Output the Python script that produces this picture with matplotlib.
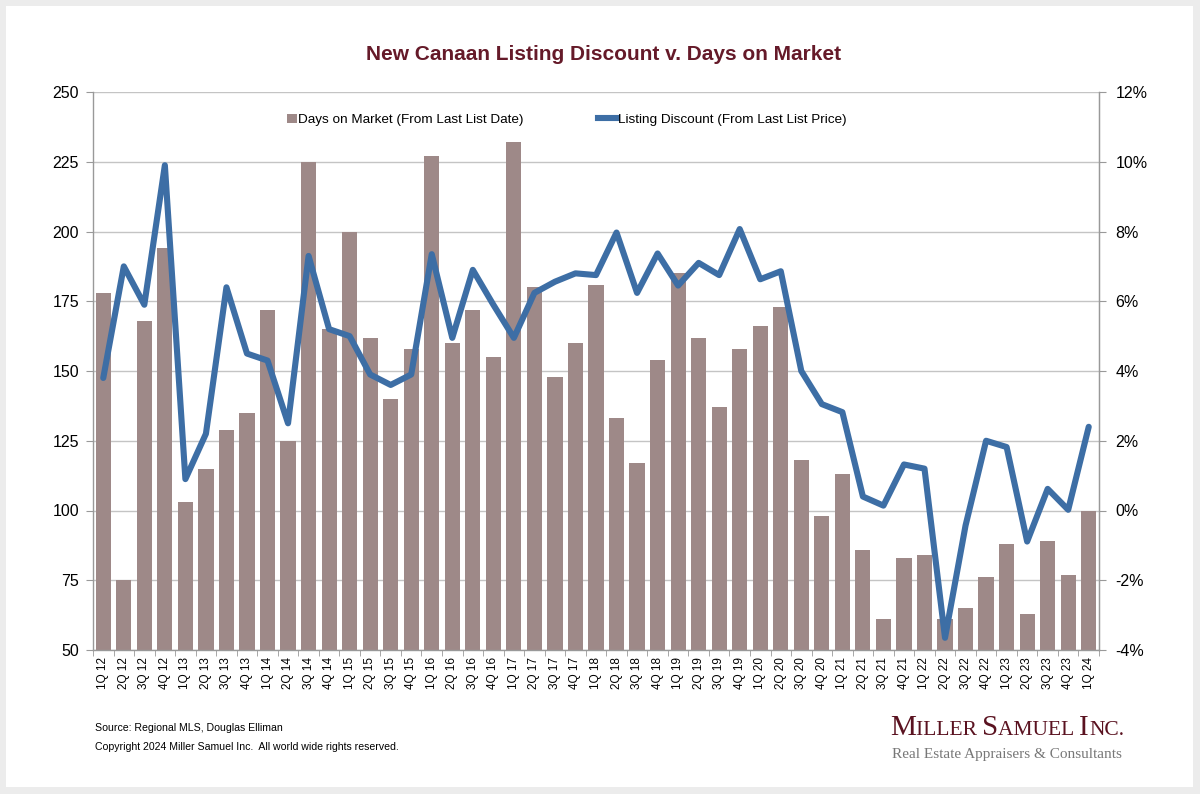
import matplotlib
matplotlib.use("Agg")
import matplotlib.pyplot as plt
from matplotlib.patches import Rectangle, Patch
from matplotlib.lines import Line2D
from matplotlib.ticker import FixedLocator, FuncFormatter

plt.rcParams['font.family'] = ['Liberation Sans', 'DejaVu Sans']

quarters = ["1Q 12", "2Q 12", "3Q 12", "4Q 12", "1Q 13", "2Q 13", "3Q 13", "4Q 13",
            "1Q 14", "2Q 14", "3Q 14", "4Q 14", "1Q 15", "2Q 15", "3Q 15", "4Q 15",
            "1Q 16", "2Q 16", "3Q 16", "4Q 16", "1Q 17", "2Q 17", "3Q 17", "4Q 17",
            "1Q 18", "2Q 18", "3Q 18", "4Q 18", "1Q 19", "2Q 19", "3Q 19", "4Q 19",
            "1Q 20", "2Q 20", "3Q 20", "4Q 20", "1Q 21", "2Q 21", "3Q 21", "4Q 21",
            "1Q 22", "2Q 22", "3Q 22", "4Q 22", "1Q 23", "2Q 23", "3Q 23", "4Q 23",
            "1Q 24"]

days_on_market = [178, 75, 168, 194, 103, 115, 129, 135,
                  172, 125, 225, 165, 200, 162, 140, 158,
                  227, 160, 172, 155, 232, 180, 148, 160,
                  181, 133, 117, 154, 185, 162, 137, 158,
                  166, 173, 118, 98, 113, 86, 61, 83,
                  84, 61, 65, 76, 88, 63, 89, 77,
                  100]

listing_discount = [3.8, 7.0, 5.9, 9.9, 0.9, 2.2, 6.4, 4.5,
                    4.3, 2.5, 7.3, 5.2, 5.0, 3.9, 3.6, 3.9,
                    7.35, 4.95, 6.9, 5.9, 4.95, 6.24, 6.56, 6.8,
                    6.75, 7.97, 6.24, 7.37, 6.45, 7.1, 6.75, 8.07,
                    6.63, 6.86, 4.0, 3.05, 2.82, 0.4, 0.14, 1.32,
                    1.2, -3.65, -0.43, 2.0, 1.82, -0.89, 0.62, 0.02,
                    2.4]

left_ticks = [50, 75, 100, 125, 150, 175, 200, 225, 250]
right_ticks = [-4, -2, 0, 2, 4, 6, 8, 10, 12]

bar_color = '#9e8988'
line_color = '#3d6ea5'
grid_color = '#c4c4c4'
title_color = '#651a29'

W, H = 1200, 794
fig = plt.figure(figsize=(W / 100, H / 100), dpi=100)
fig.patch.set_facecolor('#ececec')
fig.patches.append(Rectangle((6 / W, 1 - 787 / H), (1193 - 6) / W, (787 - 6) / H,
                             transform=fig.transFigure, facecolor='white',
                             edgecolor='none', zorder=-10))

ax = fig.add_axes([93 / W, 1 - 650 / H, (1099 - 93) / W, (650 - 92) / H])
ax.set_facecolor('none')
x = list(range(len(quarters)))
ax.bar(x, days_on_market, width=0.74, color=bar_color, zorder=2)
ax.set_xlim(-0.5, len(quarters) - 0.5)
ax.set_ylim(50, 250)
ax.yaxis.set_major_locator(FixedLocator(left_ticks))
ax.yaxis.grid(True, color=grid_color, linewidth=1.0, zorder=0)
ax.set_axisbelow(True)
ax.set_xticks(x)
ax.set_xticklabels(quarters, rotation=90, fontsize=8.5)
ax.xaxis.set_minor_locator(FixedLocator([i - 0.5 for i in range(len(quarters) + 1)]))
ax.tick_params(axis='x', which='major', length=0, pad=5)
ax.tick_params(axis='x', which='minor', length=4, color='#999999', direction='out')
ax.tick_params(axis='y', labelsize=11.5, length=5, color='#999999', pad=5)
ax.spines['top'].set_visible(False)
for s in ['left', 'bottom', 'right']:
    ax.spines[s].set_color('#999999')
    ax.spines[s].set_linewidth(1.0)

ax2 = ax.twinx()
ax2.plot(x, listing_discount, color=line_color, linewidth=4.4,
         solid_joinstyle='round', solid_capstyle='round', zorder=3)
ax2.set_ylim(-4, 12)
ax2.yaxis.set_major_locator(FixedLocator(right_ticks))
ax2.yaxis.set_major_formatter(FuncFormatter(lambda v, p: f"{v:.0f}%"))
ax2.tick_params(axis='y', labelsize=11.5, length=5, color='#999999', pad=7)
for s in ['top', 'left', 'bottom']:
    ax2.spines[s].set_visible(False)
ax2.spines['right'].set_color('#999999')

leg1 = ax2.legend(handles=[Patch(facecolor=bar_color, edgecolor='none')],
                  labels=["Days on Market (From Last List Date)"],
                  loc='center left', bbox_to_anchor=((287 - 93) / 1006, 0.95),
                  frameon=False, fontsize=9.7, handlelength=0.75, handleheight=0.75,
                  handletextpad=0.1, borderpad=0, borderaxespad=0)
ax2.add_artist(leg1)
ax2.legend(handles=[Line2D([], [], color=line_color, linewidth=4.4)],
           labels=["Listing Discount (From Last List Price)"],
           loc='center left', bbox_to_anchor=((598 - 93) / 1006, 0.95),
           frameon=False, fontsize=9.7, handlelength=1.4,
           handletextpad=0.1, borderpad=0, borderaxespad=0)

fig.text(0.503, 1 - 55 / H, "New Canaan Listing Discount v. Days on Market",
         ha='center', va='center', fontsize=15, fontweight='bold', color=title_color)

fig.text(95 / W, 1 - 728 / H, "Source: Regional MLS, Douglas Elliman",
         ha='left', va='center', fontsize=7.6, color='black')
fig.text(95 / W, 1 - 747 / H,
         "Copyright 2024 Miller Samuel Inc.  All world wide rights reserved.",
         ha='left', va='center', fontsize=7.6, color='black')

# Logo in small caps
renderer = fig.canvas.get_renderer()
pieces = [("M", 21), ("ILLER ", 15.5), ("S", 21), ("AMUEL ", 15.5), ("I", 21), ("NC.", 15.5)]
xpix = 890
logo_color = '#5a1220'
for txt, size in pieces:
    t = fig.text(xpix / W, 1 - 735 / H, txt, ha='left', va='baseline', fontsize=size,
                 family='Liberation Serif', color=logo_color)
    bb = t.get_window_extent(renderer)
    xpix += bb.width
fig.text(892 / W, 1 - 758 / H, "Real Estate Appraisers & Consultants",
         ha='left', va='baseline', fontsize=11, family='Liberation Serif',
         color='#777777')

fig.savefig("out.png", dpi=100, facecolor=fig.get_facecolor())
